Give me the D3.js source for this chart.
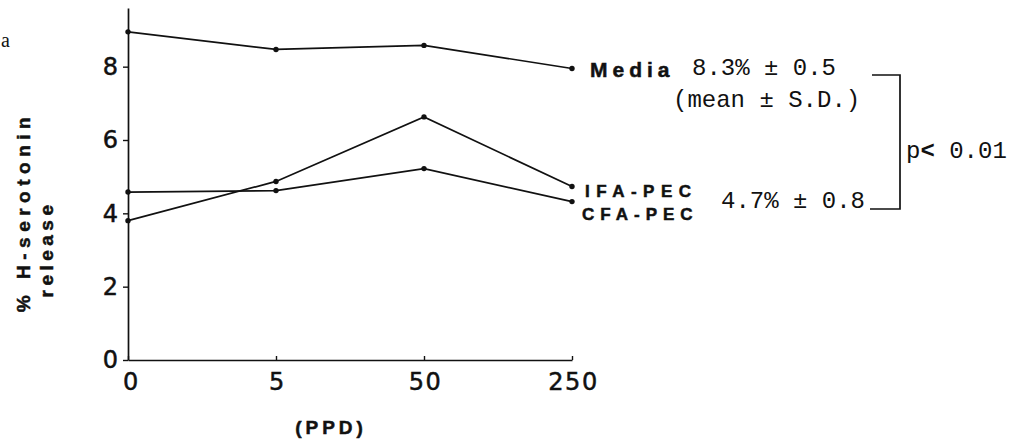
<!DOCTYPE html>
<html>
<head>
<meta charset="utf-8">
<script src="https://cdn.jsdelivr.net/npm/d3@7"></script>
<style>
  body { margin: 0; background: #fff; }
  svg { display: block; }
</style>
</head>
<body>
<div class="graph"></div>
<script>
// data
var doses = ["0", "5", "50", "250"];
var media = [8.95, 8.47, 8.58, 7.95];
var ifaPec = [3.80, 4.87, 6.63, 4.73];
var cfaPec = [4.58, 4.62, 5.22, 4.32];
var yTicks = [0, 2, 4, 6, 8];

var width = 1023, height = 442;

var svg = d3.select(".graph").append("svg")
    .attr("width", width)
    .attr("height", height);

var x = d3.scalePoint().domain(doses).range([128, 572]);
var y = d3.scaleLinear().domain([0, 9.6]).range([360, 8]);

var sans = "'Liberation Sans', Arial, sans-serif";
var wide = "'DejaVu Sans', sans-serif";
var mono = "'Liberation Mono', 'Courier New', monospace";

// y axis
var yAxis = svg.append("g")
    .attr("transform", "translate(" + x("0") + ",0)")
    .call(d3.axisLeft(y).tickValues(yTicks).tickSize(5).tickSizeOuter(0).tickPadding(5));

// x axis
var xAxis = svg.append("g")
    .attr("transform", "translate(0," + y(0) + ")")
    .call(d3.axisBottom(x).tickSize(-4).tickSizeOuter(0).tickPadding(13));

[yAxis, xAxis].forEach(function(a) {
  a.select(".domain").attr("stroke", "#111").attr("stroke-width", 1.7);
  a.selectAll(".tick line").attr("stroke", "#111").attr("stroke-width", 1.4);
  a.selectAll(".tick text")
    .attr("fill", "#111")
    .style("font-family", wide)
    .style("font-size", "24px")
    .attr("stroke", "#111")
    .attr("stroke-width", 0.5);
});
xAxis.selectAll(".tick text")
    .style("letter-spacing", "1.5px")
    .attr("dx", "1px");
xAxis.select(".tick text").attr("x", 2);

// series lines
var line = d3.line()
    .x(function(d, i) { return x(doses[i]); })
    .y(function(d) { return y(d); });

[media, ifaPec, cfaPec].forEach(function(s) {
  svg.append("path")
    .attr("d", line(s))
    .attr("fill", "none")
    .attr("stroke", "#111")
    .attr("stroke-width", 1.7);
  svg.selectAll(null)
    .data(s)
    .enter().append("circle")
    .attr("cx", function(d, i) { return x(doses[i]); })
    .attr("cy", function(d) { return y(d); })
    .attr("r", 2.7)
    .attr("fill", "#111");
});

// series labels
function label(txt, xx, yy, size, spacing) {
  return svg.append("text")
    .attr("x", xx).attr("y", yy)
    .style("font-family", sans)
    .style("font-weight", "bold")
    .style("font-size", size + "px")
    .style("letter-spacing", spacing + "px")
    .attr("fill", "#111")
    .attr("stroke", "#111")
    .attr("stroke-width", 0.5)
    .text(txt);
}
label("Media", 590, 77, 21, 5);
label("IFA-PEC", 585, 197, 17, 6.5);
label("CFA-PEC", 582, 220, 17, 6);

// stats annotations
function note(txt, xx, yy) {
  return svg.append("text")
    .attr("x", xx).attr("y", yy)
    .style("font-family", mono)
    .style("font-size", "24px")
    .attr("fill", "#111")
    .text(txt);
}
note("8.3% \u00b1 0.5", 692, 75);
note("(mean \u00b1 S.D.)", 673, 107);
note("4.7% \u00b1 0.8", 721, 208);
var p = note("p", 906, 158);
p.append("tspan").style("font-weight", "bold").text("<");
p.append("tspan").text(" 0.01");

// bracket
svg.append("path")
  .attr("d", "M872,75 H900 V209 H870")
  .attr("fill", "none")
  .attr("stroke", "#111")
  .attr("stroke-width", 1.7);

// axis titles
svg.append("text")
  .attr("x", 331).attr("y", 434)
  .attr("text-anchor", "middle")
  .style("font-family", sans)
  .style("font-weight", "bold")
  .style("font-size", "19px")
  .style("letter-spacing", "4px")
  .attr("fill", "#111")
  .attr("stroke", "#111")
  .attr("stroke-width", 0.5)
  .text("(PPD)");

svg.append("text")
  .attr("transform", "translate(30,212) rotate(-90)")
  .attr("text-anchor", "middle")
  .style("font-family", sans)
  .style("font-weight", "bold")
  .style("font-size", "19px")
  .style("letter-spacing", "5.5px")
  .attr("fill", "#111")
  .attr("stroke", "#111")
  .attr("stroke-width", 0.5)
  .text("% H-serotonin");

svg.append("text")
  .attr("transform", "translate(53,249) rotate(-90)")
  .attr("text-anchor", "middle")
  .style("font-family", sans)
  .style("font-weight", "bold")
  .style("font-size", "19px")
  .style("letter-spacing", "4.5px")
  .attr("fill", "#111")
  .attr("stroke", "#111")
  .attr("stroke-width", 0.5)
  .text("release");

// panel letter at the page edge
svg.append("text")
  .attr("x", 1).attr("y", 47)
  .style("font-family", "'Liberation Serif', serif")
  .style("font-size", "20px")
  .attr("fill", "#111")
  .text("a");
</script>
</body>
</html>
